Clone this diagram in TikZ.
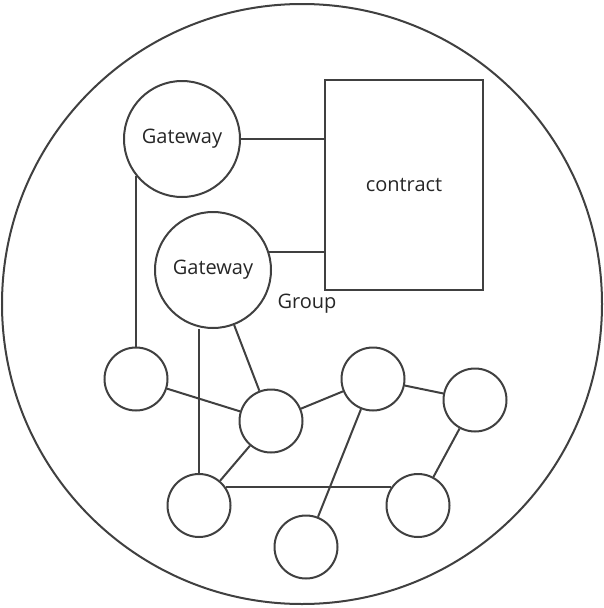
\documentclass[tikz,border=0pt]{standalone}
\usepackage{fontspec}
\setmainfont{Open Sans}
\begin{document}
\begin{tikzpicture}[x=1pt,y=-1pt,
  txt/.style={font=\fontsize{20}{24}\selectfont,text=black!85},
  gw/.style={circle,draw=black!75,line width=2pt,inner sep=0pt,minimum size=116pt,txt},
  sm/.style={circle,draw=black!75,line width=2pt,inner sep=0pt,minimum size=63pt},
  link/.style={draw=black!75,line width=2pt}]
\useasboundingbox (0,0) rectangle (604,608);
\node[circle,draw=black!75,line width=2pt,inner sep=0pt,minimum size=600pt] (outer) at (302,304) {};
\node[gw] (G1) at (182,139) {Gateway};
\node[gw] (G2) at (213,270) {Gateway};
\node[draw=black!75,line width=2pt,inner sep=0pt,minimum width=158pt,minimum height=210pt,txt] (R) at (404,185) {contract};
\node[txt] (grp) at (307,304) {Group};
\node[sm] (C1) at (136,379) {};
\node[sm] (C2) at (271,421) {};
\node[sm] (C3) at (373,379) {};
\node[sm] (C4) at (475,400) {};
\node[sm] (C5) at (199,505.5) {};
\node[sm] (C6) at (306,547) {};
\node[sm] (C7) at (418,505.5) {};
\draw[link] (G1.east) -- (G1.east -| R.west);
\draw[link] (G2.18) -- (G2.18 -| R.west);
\draw[link] (G1.219) -- (G1.219 |- C1.north);
\draw[link] (C5.north) -- (C5.north |- G2.south);
\draw[link] (G2) -- (C2);
\draw[link] (C1) -- (C2);
\draw[link] (C2) -- (C3);
\draw[link] (C3) -- (C4);
\draw[link] (C5) -- (C2);
\draw[link] (C5.35) -- (C7.145);
\draw[link] (C3) -- (C6);
\draw[link] (C4) -- (C7);
\end{tikzpicture}
\end{document}
